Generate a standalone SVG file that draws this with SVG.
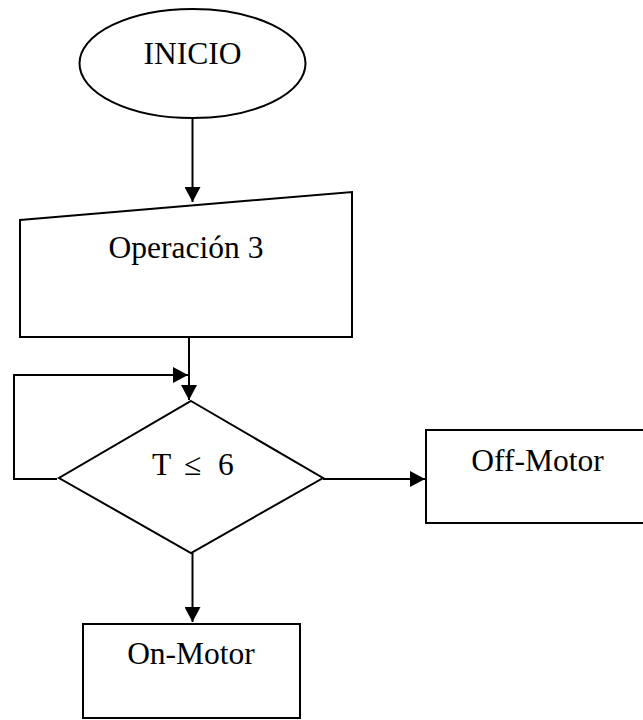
<svg xmlns="http://www.w3.org/2000/svg" width="643" height="720" viewBox="0 0 643 720">
  <style>
    .shape { fill: #ffffff; stroke: #000000; stroke-width: 2; }
    .edge { fill: none; stroke: #000000; stroke-width: 2; }
    .label { font-family: "Liberation Serif", "Times New Roman", serif; font-size: 31.5px; fill: #000000; }
    .mid { text-anchor: middle; }
  </style>
  <defs>
    <marker id="arrow" viewBox="0 0 15 16" refX="15" refY="8" markerWidth="15" markerHeight="16" markerUnits="userSpaceOnUse" orient="auto">
      <path d="M0,0 L15,8 L0,16 Z" fill="#000000"/>
    </marker>
  </defs>
  <rect width="643" height="720" fill="#ffffff"/>

  <g id="connectors">
    <path class="edge" d="M192.5,118 V202" marker-end="url(#arrow)"/>
    <path class="edge" d="M189,337 V400" marker-end="url(#arrow)"/>
    <path class="edge" d="M57,479 H14 V375 H188" marker-end="url(#arrow)"/>
    <path class="edge" d="M323,479 H425" marker-end="url(#arrow)"/>
    <path class="edge" d="M192.5,553 V622" marker-end="url(#arrow)"/>
  </g>

  <g id="inicio">
    <ellipse class="shape" cx="192.5" cy="63.5" rx="113" ry="54.5"/>
    <text class="label mid" x="192.5" y="64">INICIO</text>
  </g>

  <g id="operacion3">
    <polygon class="shape" points="20,220 352,192 352,337 20,337"/>
    <text class="label mid" x="186" y="258">Operación 3</text>
  </g>

  <g id="decision">
    <polygon class="shape" points="191,401 323,478 191,553 59,478"/>
    <text class="label" y="475"><tspan x="152">T</tspan><tspan x="184">≤</tspan><tspan x="218">6</tspan></text>
  </g>

  <g id="off-motor">
    <rect class="shape" x="426" y="430" width="220" height="93"/>
    <text class="label mid" x="537.5" y="471">Off-Motor</text>
  </g>

  <g id="on-motor">
    <rect class="shape" x="83" y="624" width="217" height="94"/>
    <text class="label mid" x="191" y="664">On-Motor</text>
  </g>
</svg>
